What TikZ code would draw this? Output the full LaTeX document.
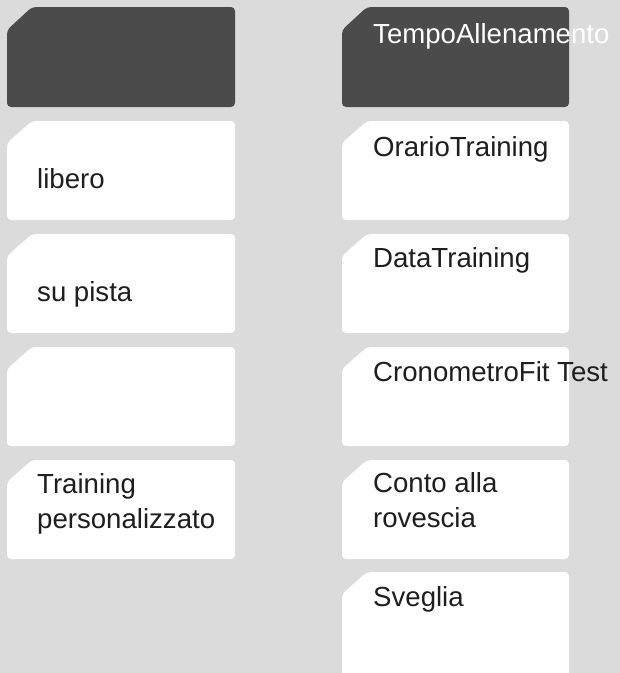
\documentclass[tikz,border=0pt]{standalone}
\usepackage{fontspec}
\setmainfont{Liberation Sans}
\definecolor{bggray}{HTML}{DBDBDB}
\definecolor{headgray}{HTML}{4B4B4B}
\definecolor{inkgray}{HTML}{1E1E1E}
\tikzset{
    menutext/.style={anchor=base west, inner sep=0pt, text=inkgray,
        font=\fontsize{27.6}{33}\selectfont},
    headtext/.style={menutext, text=white},
}
\begin{document}
\begin{tikzpicture}[x=1pt, y=-1pt]
    \fill[bggray] (0, 0) rectangle (620, 673);
    \useasboundingbox (0, 0) rectangle (620, 673);
    \clip (0, 0) rectangle (620, 673);
    % header boxes
    \foreach \x/\r in {7/235, 342/569}
        \fill[headgray, rounded corners=4pt] (\x, 30) -- (\x+25, 7) -- (\r, 7) -- (\r, 107) -- (\x, 107) -- cycle;
    % left column
    \foreach \y in {121, 234, 347, 460}
        \fill[white, rounded corners=4pt] (7, \y+22) -- (32, \y) -- (235, \y) -- (235, \y+99) -- (7, \y+99) -- cycle;
    % right column
    \foreach \y in {121, 234, 347, 460}
        \fill[white, rounded corners=4pt] (342, \y+22) -- (367, \y) -- (569, \y) -- (569, \y+99) -- (342, \y+99) -- cycle;
    \fill[white, rounded corners=4pt] (342, 594) -- (367, 572) -- (569, 572) -- (569, 690) -- (342, 690) -- cycle;
    % labels
    \node[menutext] (libero) at (37, 188) {libero};
    \node[menutext] (pista) at (37, 301) {su pista};
    \node[menutext] (training) at (37, 493) {Training};
    \node[menutext] (perso) at (37, 528) {personalizzato};
    \node[headtext] (tempo) at (373, 43) {TempoAllenamento};
    \node[menutext] (orario) at (373, 156) {OrarioTraining};
    \node[menutext] (data) at (373, 267) {DataTraining};
    \node[menutext] (crono) at (373, 381) {CronometroFit Test};
    \node[menutext] (conto) at (373, 492) {Conto alla};
    \node[menutext] (rovescia) at (373, 527) {rovescia};
    \node[menutext] (sveglia) at (373, 606) {Sveglia};
\end{tikzpicture}
\end{document}
